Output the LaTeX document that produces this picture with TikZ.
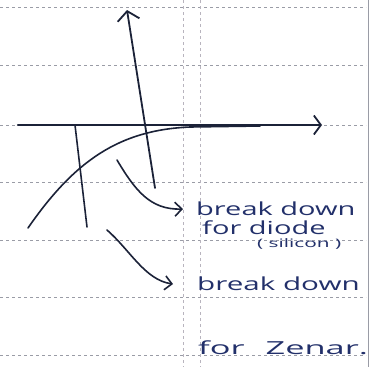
\documentclass[tikz,border=0pt]{standalone}
\usepackage{fontspec}
\setmainfont{Open Sans}
\usetikzlibrary{arrows.meta}
\definecolor{my_ink}{HTML}{1B2238}
\definecolor{my_pen}{HTML}{22306A}
\definecolor{my_rule}{HTML}{9A9CA6}
\definecolor{my_margin}{HTML}{B8B4BE}

\newcommand{\scribble}[2]{\scalebox{#1}[0.9]{#2}}

\begin{document}
\begin{tikzpicture}[
    x=1pt, y=-1pt,
    ruling/.style={my_rule, dashed, line width=0.8pt},
    marginline/.style={my_margin, dashed, line width=0.7pt},
    axisline/.style={my_ink, line width=2.2pt, line cap=round},
    sketch/.style={my_ink, line width=1.6pt, line cap=round},
    pointer/.style={my_ink, line width=1.6pt, line cap=round,
        -{Straight Barb[length=7pt, width=14pt, line width=1.6pt]}},
    note/.style={text=my_pen, font=\fontsize{20}{22}\selectfont, inner sep=0pt, anchor=west}
]

% Papier
\useasboundingbox (0,0) rectangle (383,367);
\fill[white] (0,0) rectangle (383,367);
\foreach \ry in {7, 65, 125, 182, 240, 297, 355} {
    \draw[ruling] (0,\ry) -- (366,\ry);
}
\draw[marginline] (183,0) -- (183,367);
\draw[marginline] (200,0) -- (200,367);
\draw[my_rule, line width=1pt] (368,0) -- (368,367);

% Achsen
\draw[axisline, -{Straight Barb[length=7pt, width=19pt, line width=1.8pt]}]
    (18,125) -- (322,125);
\draw[axisline, line width=1.8pt, -{Straight Barb[length=9pt, width=22pt, line width=1.8pt]}]
    (155,188) -- (127,10);

% Kennlinie
\draw[sketch] (28,228) .. controls (75,160) and (120,130) .. (190,127) -- (260,126);

% Durchbruch (Zener)
\draw[sketch] (75,125) -- (87,227);

% Beschriftungen
\node[note] (bdDiode) at (196,209) {\scribble{1.45}{break down}};
\node[note] (forDiode) at (202,228) {\scribble{1.45}{for diode}};
\node[note, font=\fontsize{13}{14}\selectfont] (silNote) at (257,244) {\scribble{1.6}{( silicon )}};
\node[note] (bdZener) at (197,284) {\scribble{1.48}{break down}};
\node[note] (forZener) at (198,348) {\scribble{1.72}{for\hspace{0.35em} Zenar.}};

% Hinweispfeile
\coordinate (diodeTail) at (117,160);
\coordinate (zenerTail) at (107,230);
\draw[pointer] (diodeTail) .. controls (135,190) and (150,210) .. ([xshift=-13pt]bdDiode.west);
\draw[pointer] (zenerTail) .. controls (130,250) and (145,280) .. ([xshift=-24pt]bdZener.west);

\end{tikzpicture}
\end{document}
